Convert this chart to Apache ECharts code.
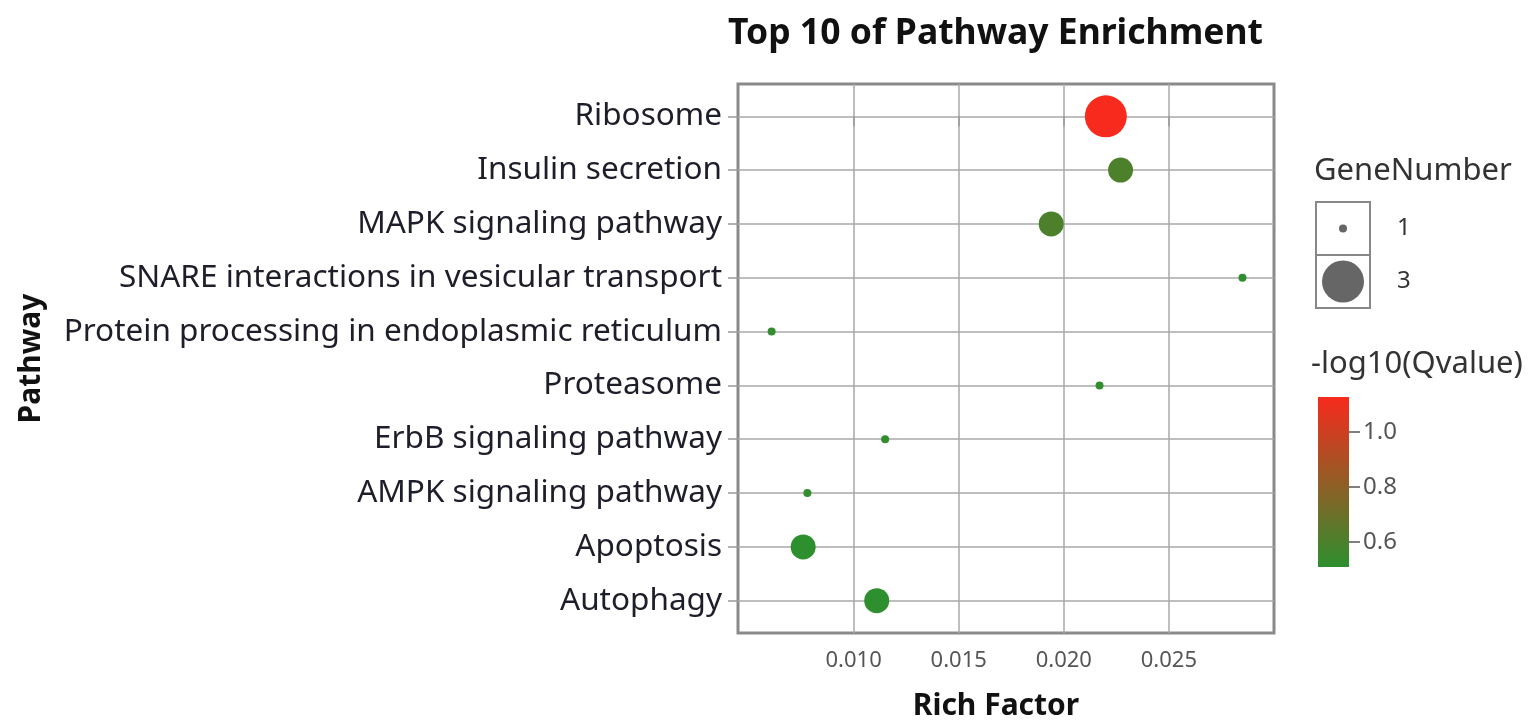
<!DOCTYPE html>
<html><head><meta charset="utf-8">
<script src="https://cdn.jsdelivr.net/npm/echarts@6/dist/echarts.min.js"></script>
<style>html,body{margin:0;padding:0;background:#fff}#c{width:1534px;height:721px}</style>
</head><body><div id="c"></div>
<script>
const pathways = ['Ribosome','Insulin secretion','MAPK signaling pathway','SNARE interactions in vesicular transport','Protein processing in endoplasmic reticulum','Proteasome','ErbB signaling pathway','AMPK signaling pathway','Apoptosis','Autophagy'];
const richFactor = [0.0220,0.0227,0.0194,0.0285,0.0061,0.0217,0.0115,0.0078,0.0076,0.0111];
const geneNumber = [3,2,2,1,1,1,1,1,2,2];
const qValue = [1.127,0.60,0.60,0.52,0.52,0.52,0.52,0.52,0.51,0.51];
const xTicks = [0.010,0.015,0.020,0.025];
const colorTicks = [0.6,0.8,1.0];
const sizeLegend = [1,3];
const qMin = 0.509, qMax = 1.127;

const FONT = 'Noto Sans';
const GREEN = '#2e8f2e', RED = '#f72a1d';
const sizeOf = n => 8 + (n - 1) * 17;
const rowIdx = pathways.map((_, i) => i);

const chart = echarts.init(document.getElementById('c'));
chart.setOption({
  animation: false,
  textStyle: { fontFamily: FONT },
  title: [
    { text: 'Top 10 of Pathway Enrichment', left: 728, top: 16, padding: 0,
      textStyle: { fontFamily: FONT, fontSize: 35.5, fontWeight: 'bold', color: '#111' } },
    { text: 'GeneNumber', left: 1314, top: 156, padding: 0,
      textStyle: { fontFamily: FONT, fontSize: 31, fontWeight: 'normal', color: '#333' } },
    { text: '-log10(Qvalue)', left: 1311, top: 349, padding: 0,
      textStyle: { fontFamily: FONT, fontSize: 31, fontWeight: 'normal', color: '#333' } }
  ],
  grid: [
    { left: 738, top: 84, width: 536, height: 549, show: true, borderColor: '#8a8a8a', borderWidth: 3, containLabel: false, outerBoundsMode: 'none' },
    { left: 1316, top: 202, width: 54, height: 106, show: true, borderColor: '#888', borderWidth: 2, outerBoundsMode: 'none' },
    { left: 1318, top: 397, width: 31, height: 170, outerBoundsMode: 'none' }
  ],
  visualMap: [{
    type: 'continuous', show: false, seriesIndex: 0, dimension: 3,
    min: qMin, max: qMax, inRange: { color: [GREEN, RED] }
  }],
  xAxis: [
    { gridIndex: 0, type: 'value', min: 0.0045, max: 0.030,
      axisLine: { show: false },
      axisTick: { show: true, customValues: xTicks, length: 10, lineStyle: { color: '#999', width: 1.5 } },
      axisLabel: { customValues: xTicks, formatter: v => v.toFixed(3), fontSize: 22, color: '#555', margin: 17, fontFamily: FONT },
      splitLine: { show: true, lineStyle: { color: '#a8a8a8', width: 1.5 } },
      name: 'Rich Factor', nameLocation: 'middle', nameGap: 58,
      nameTextStyle: { fontFamily: FONT, fontSize: 30, fontWeight: 'bold', color: '#111', padding: [0, 20, 0, 0] } },
    { gridIndex: 1, type: 'value', min: -1, max: 1, show: false },
    { gridIndex: 2, type: 'category', data: ['c'], show: false }
  ],
  yAxis: [
    { gridIndex: 0, type: 'value', min: -0.6, max: 9.6, inverse: true,
      axisLine: { show: false },
      axisTick: { show: true, customValues: rowIdx, length: 10, lineStyle: { color: '#999', width: 1.5 } },
      axisLabel: { customValues: rowIdx, formatter: v => pathways[Math.round(v)] || '', fontSize: 31.5, color: '#1e1e2a', margin: 16, fontFamily: FONT },
      splitLine: { show: true, lineStyle: { color: '#a8a8a8', width: 1.5 } },
      name: 'Pathway', nameLocation: 'middle', nameRotate: 90, nameGap: 692,
      nameTextStyle: { fontFamily: FONT, fontSize: 30, fontWeight: 'bold', color: '#111' } },
    { gridIndex: 1, type: 'category', data: sizeLegend.map(String), inverse: true, position: 'right',
      axisLine: { show: false }, axisTick: { show: false },
      axisLabel: { fontSize: 24, color: '#333', margin: 27, fontFamily: FONT },
      splitLine: { show: true, lineStyle: { color: '#888', width: 2 } } },
    { gridIndex: 2, type: 'value', min: qMin, max: qMax, position: 'right',
      axisLine: { show: false },
      axisTick: { show: true, customValues: colorTicks, length: 11, lineStyle: { color: '#555', width: 1.5 } },
      axisLabel: { customValues: colorTicks, formatter: v => v.toFixed(1), fontSize: 24, color: '#555', margin: 14, fontFamily: FONT },
      splitLine: { show: false } }
  ],
  series: [
    { type: 'scatter', xAxisIndex: 0, yAxisIndex: 0,
      data: pathways.map((p, i) => [richFactor[i], i, geneNumber[i], qValue[i], p]),
      symbolSize: v => sizeOf(v[2]), itemStyle: { opacity: 1 } },
    { type: 'scatter', xAxisIndex: 1, yAxisIndex: 1,
      data: sizeLegend.map((n, i) => [0, i, n]),
      symbolSize: v => sizeOf(v[2]), itemStyle: { color: '#666', opacity: 1 } },
    { type: 'bar', xAxisIndex: 2, yAxisIndex: 2, stack: 'cb', barWidth: '100%', silent: true,
      data: [qMin], itemStyle: { color: 'rgba(0,0,0,0)' } },
    { type: 'bar', xAxisIndex: 2, yAxisIndex: 2, stack: 'cb', barWidth: '100%', silent: true,
      data: [qMax - qMin],
      itemStyle: { color: new echarts.graphic.LinearGradient(0, 0, 0, 1, [
        { offset: 0, color: RED }, { offset: 1, color: GREEN }]) } }
  ]
});
</script></body></html>
